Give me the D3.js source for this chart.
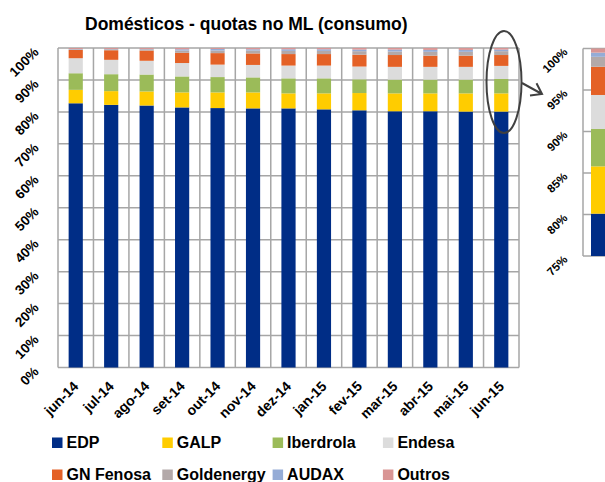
<!DOCTYPE html>
<html><head><meta charset="utf-8">
<script src="https://cdn.jsdelivr.net/npm/d3@7"></script>
<style>body{margin:0;background:#fff}svg{display:block;font-family:"Liberation Sans",Arial,sans-serif}</style>
</head><body><svg id="c" width="605" height="482"></svg>
<script>
const months = ["jun-14","jul-14","ago-14","set-14","out-14","nov-14","dez-14","jan-15","fev-15","mar-15","abr-15","mai-15","jun-15"];
const seriesNames = ["EDP","GALP","Iberdrola","Endesa","GN Fenosa","Goldenergy","AUDAX","Outros"];
const colors = ["#002d86","#ffcc00","#9bbb59","#dcdcdc","#e46126","#b3a9a9","#95acd6","#d99594"];
const EDP        = [82.7,82.2,82.0,81.4,81.2,81.1,81.1,80.8,80.5,80.2,80.2,80.1,80.1];
const GALP       = [ 4.2, 4.3, 4.4, 4.7, 4.9, 5.0, 4.7, 5.0, 5.4, 5.6, 5.6, 5.7, 5.7];
const Iberdrola  = [ 5.2, 5.3, 5.3, 5.0, 4.8, 4.7, 4.7, 4.7, 4.3, 4.3, 4.3, 4.3, 4.5];
const Endesa     = [ 4.7, 4.5, 4.3, 4.2, 3.9, 3.9, 4.0, 4.0, 4.0, 4.0, 4.0, 4.0, 4.1];
const GNFenosa   = [ 2.6, 3.0, 3.2, 3.2, 3.6, 3.6, 3.6, 3.6, 3.7, 3.7, 3.5, 3.5, 3.4];
const Goldenergy = [ 0.2, 0.3, 0.4, 0.7, 0.8, 0.9, 1.0, 1.0, 1.1, 1.1, 1.2, 1.2, 1.2];
const AUDAX      = [ 0.1, 0.1, 0.1, 0.4, 0.5, 0.4, 0.5, 0.5, 0.5, 0.6, 0.6, 0.6, 0.5];
const Outros     = [ 0.3, 0.3, 0.3, 0.4, 0.3, 0.4, 0.4, 0.4, 0.5, 0.5, 0.6, 0.6, 0.5];
const yTicks = [0,0.1,0.2,0.3,0.4,0.5,0.6,0.7,0.8,0.9,1.0];
const insetTicks = [0.75,0.80,0.85,0.90,0.95,1.0];
const title = "Domésticos - quotas no ML (consumo)";

const allSeries = [EDP,GALP,Iberdrola,Endesa,GNFenosa,Goldenergy,AUDAX,Outros];
const table = months.map((m,i)=>{const o={month:m}; seriesNames.forEach((s,j)=>o[s]=allSeries[j][i]/100); return o;});
const stacked = d3.stack().keys(seriesNames)(table);

const svg = d3.select("#c");
const gridCol = "#a6a6a6";
const L=58,R=519,T=48,B=367.5;
const x = d3.scaleBand().domain(months).range([L,R]).paddingInner(0.6).paddingOuter(0.3);
const xb = d3.scaleBand().domain(months).range([L,R]).padding(0);
const y = d3.scaleLinear().domain([0,1]).range([B,T]);

// grid
const g = svg.append("g");
g.selectAll("line.h").data(yTicks).join("line")
  .attr("x1",L).attr("x2",R).attr("y1",d=>y(d)).attr("y2",d=>y(d))
  .attr("stroke",gridCol).attr("stroke-width",1.5);
g.selectAll("line.v").data(months.slice(1)).join("line")
  .attr("x1",d=>xb(d)).attr("x2",d=>xb(d)).attr("y1",T).attr("y2",B)
  .attr("stroke",gridCol).attr("stroke-width",1.5);
g.append("line").attr("x1",L).attr("x2",L).attr("y1",T).attr("y2",B).attr("stroke",gridCol).attr("stroke-width",1.5);
g.append("line").attr("x1",R).attr("x2",R).attr("y1",T).attr("y2",B).attr("stroke",gridCol).attr("stroke-width",1.5);

// bars
svg.append("g").selectAll("g").data(stacked).join("g")
  .attr("fill",(d,i)=>colors[i])
  .selectAll("rect").data(d=>d).join("rect")
  .attr("x",d=>x(d.data.month)).attr("width",x.bandwidth())
  .attr("y",d=>y(d[1])).attr("height",d=>Math.max(0,y(d[0])-y(d[1])));

// y labels
svg.append("g").selectAll("text").data(yTicks).join("text")
  .attr("transform",d=>`translate(37,${y(d)+2.5}) rotate(-45)`)
  .attr("text-anchor","end").attr("dominant-baseline","middle")
  .attr("font-size",13.5).attr("font-weight","bold").attr("fill","#000")
  .text(d3.format(".0%"));
// x labels
svg.append("g").selectAll("text").data(months).join("text")
  .attr("transform",d=>`translate(${x(d)+x.bandwidth()/2+1},${B+17}) rotate(-45)`)
  .attr("text-anchor","end").attr("dominant-baseline","middle")
  .attr("font-size",14).attr("font-weight","bold").attr("fill","#000")
  .text(d=>d);

// title
svg.append("text").attr("x",85).attr("y",30).attr("font-size",17.5).attr("font-weight","bold").text(title);

// legend
const leg = svg.append("g");
seriesNames.forEach((s,i)=>{
  const col=i%4,row=Math.floor(i/4);
  const lx=52+col*110.3, ly=row?480:448;
  leg.append("rect").attr("x",lx).attr("y",ly-10.5).attr("width",10.5).attr("height",10.5).attr("fill",colors[i]);
  leg.append("text").attr("x",lx+14.5).attr("y",ly).attr("font-size",16).attr("font-weight","bold").text(s);
});

// inset
const IL=583, IR=605;
const yi = d3.scaleLinear().domain([0.75,1]).range([256,48.5]);
const ig = svg.append("g");
ig.selectAll("line").data(insetTicks).join("line")
  .attr("x1",IL).attr("x2",IR).attr("y1",d=>yi(d)).attr("y2",d=>yi(d))
  .attr("stroke",gridCol).attr("stroke-width",1.5);
const last = months.length-1;
ig.selectAll("rect").data(stacked).join("rect")
  .attr("fill",(d,i)=>colors[i])
  .attr("x",591).attr("width",16)
  .attr("y",d=>yi(d[last][1]))
  .attr("height",d=>Math.max(0,yi(Math.max(0.75,d[last][0]))-yi(d[last][1])));
ig.append("line").attr("x1",IL).attr("x2",IL).attr("y1",yi(1)).attr("y2",yi(0.75)).attr("stroke",gridCol).attr("stroke-width",1.5);
ig.selectAll("text").data(insetTicks).join("text")
  .attr("transform",d=>`translate(566,${yi(d)+2}) rotate(-45)`)
  .attr("text-anchor","end").attr("dominant-baseline","middle")
  .attr("font-size",11.5).attr("font-weight","bold").text(d3.format(".0%"));

// ellipse & arrow
svg.append("ellipse").attr("cx",504).attr("cy",82).attr("rx",17.5).attr("ry",51)
  .attr("fill","none").attr("stroke","#404040").attr("stroke-width",2);
svg.append("path").attr("d","M522,83 L542,94 M530,95.5 L542,94 L536.5,83.3")
  .attr("fill","none").attr("stroke","#404040").attr("stroke-width",2);
</script></body></html>
